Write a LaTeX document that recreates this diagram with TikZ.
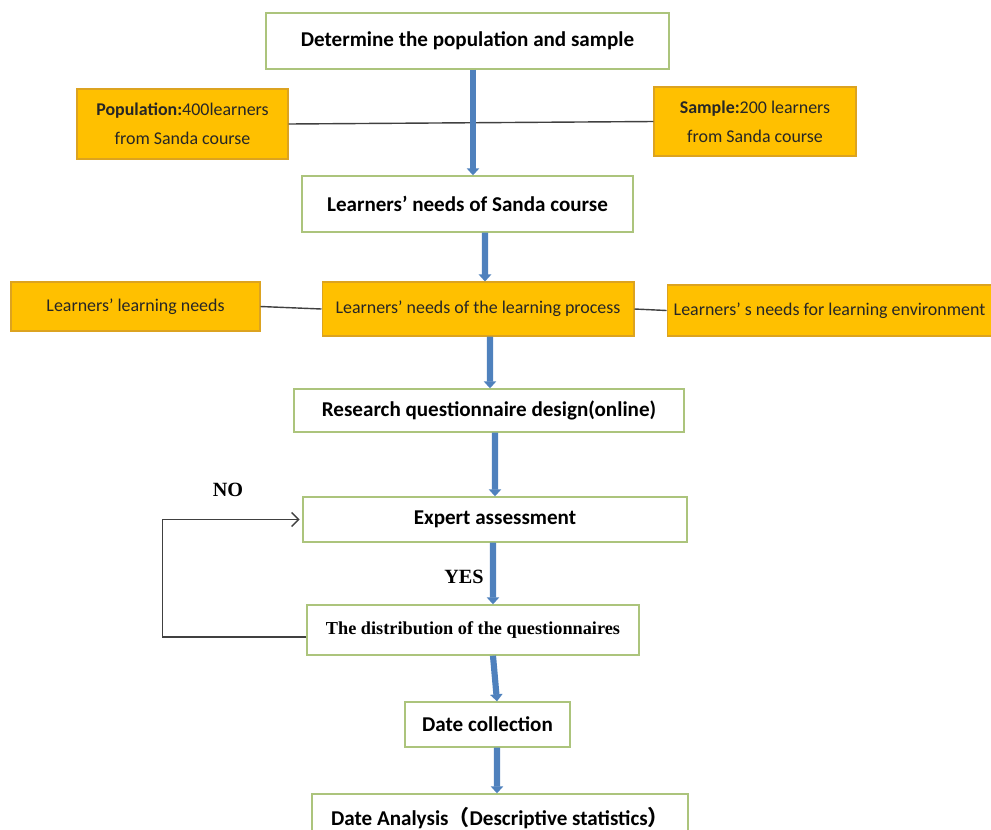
\documentclass[tikz,border=0pt]{standalone}
\usepackage{fontspec}
\setmainfont{Carlito}
\newfontfamily\timesfont{Liberation Serif}
\newfontfamily\cjkfont{Noto Sans CJK SC}
\usetikzlibrary{arrows.meta}

\begin{document}
\begin{tikzpicture}[x=0.02cm,y=-0.02cm]

    % Colors: white steps with green edge, gold side boxes, blue flow
    \definecolor{boxline}{RGB}{172,196,124}
    \definecolor{gold}{RGB}{255,192,0}
    \definecolor{goldline}{RGB}{220,163,32}
    \definecolor{flowblue}{RGB}{79,129,189}

    % Canvas = 991 x 829 px (1 px = 0.02 cm), y runs downwards
    \clip (0,0) rectangle (991,829);

    % Box and line styles
    \tikzset{
        stepbox/.style={
            draw=boxline, line width=0.8pt, fill=white,
            inner sep=0pt, align=center,
            font=\bfseries\fontsize{12}{14}\selectfont
        },
        goldbox/.style={
            draw=goldline, line width=0.6pt, fill=gold,
            inner sep=0pt, align=center, text=black!85,
            font=\fontsize{10.2}{16.5}\selectfont
        },
        flow/.style={draw=flowblue, line width=3.5pt,
            -{Triangle[width=7pt,length=4pt]}},
        tie/.style={draw=black!75, line width=0.8pt}
    }

    % --- Top: population and sample ---
    \node[stepbox, minimum width=8.06cm, minimum height=1.12cm]
        (determine) at (467.5,41) {Determine the population and sample};
    \node[goldbox, minimum width=4.22cm, minimum height=1.40cm]
        (population) at (182.5,124) {\textbf{Population:}400learners\\from Sanda course};
    \node[goldbox, minimum width=4.04cm, minimum height=1.38cm]
        (sample) at (755,121.5) {\textbf{Sample:}200 learners\\from Sanda course};
    \node[stepbox, minimum width=6.62cm, minimum height=1.12cm]
        (sanda) at (467.5,204) {Learners’ needs of Sanda course};

    % --- Needs row ---
    \node[goldbox, minimum width=4.98cm, minimum height=0.98cm]
        (learnneeds) at (135.5,306.5) {Learners’ learning needs};
    \node[goldbox, minimum width=6.24cm, minimum height=1.08cm]
        (process) at (478,309) {Learners’ needs of the learning process};
    \node[goldbox, minimum width=6.50cm, minimum height=1.02cm]
        (environment) at (829.5,310.5) {Learners’ s needs for learning environment};

    % --- Questionnaire steps ---
    \node[stepbox, minimum width=7.80cm, minimum height=0.86cm]
        (design) at (489,410.5) {Research questionnaire design(online)};
    \node[stepbox, minimum width=7.68cm, minimum height=0.90cm]
        (expert) at (495,519.5) {Expert assessment};
    \node[stepbox, minimum width=6.64cm, minimum height=1.00cm,
          font=\timesfont\bfseries\fontsize{10.4}{12}\selectfont]
        (distribution) at (473,630) {The distribution of the questionnaires};
    \node[stepbox, minimum width=3.30cm, minimum height=0.90cm]
        (collection) at (487.5,724.5) {Date collection};
    \node[stepbox, minimum width=7.52cm, minimum height=0.96cm]
        (analysis) at (500,818) {Date Analysis{\cjkfont （}Descriptive statistics{\cjkfont ）}};

    % Decision labels
    \node[font=\timesfont\bfseries\fontsize{11.5}{13}\selectfont] (nolabel) at (228,490) {NO};
    \node[font=\timesfont\bfseries\fontsize{11.5}{13}\selectfont] (yeslabel) at (464,577) {YES};

    % Side ties
    \draw[tie] (population.east) -- (sample.west);
    \draw[tie] (learnneeds.east) -- (process.west);
    \draw[tie] (process.east) -- (environment.west);

    % Blue flow arrows
    \draw[flow] ([xshift=0.11cm]determine.south) -- ([xshift=0.11cm]sanda.north);
    \draw[flow] ([xshift=0.35cm]sanda.south) -- ([xshift=0.14cm]process.north);
    \draw[flow] ([xshift=0.24cm]process.south) -- ([xshift=0.02cm]design.north);
    \draw[flow] ([xshift=0.12cm]design.south) -- (expert.north);
    \draw[flow] ([xshift=-0.04cm]expert.south) -- ([xshift=0.40cm]distribution.north);
    \draw[flow] ([xshift=0.40cm]distribution.south) -- ([xshift=0.19cm]collection.north);
    \draw[flow] ([xshift=0.19cm]collection.south) -- ([xshift=-0.06cm]analysis.north);

    % NO loop back to the assessment
    \draw[tie, -{Straight Barb[length=4pt,width=8pt]}, shorten >=1.5pt]
        ([yshift=-0.14cm]distribution.west) -- ++(-144,0) |- (expert.west);

\end{tikzpicture}
\end{document}
